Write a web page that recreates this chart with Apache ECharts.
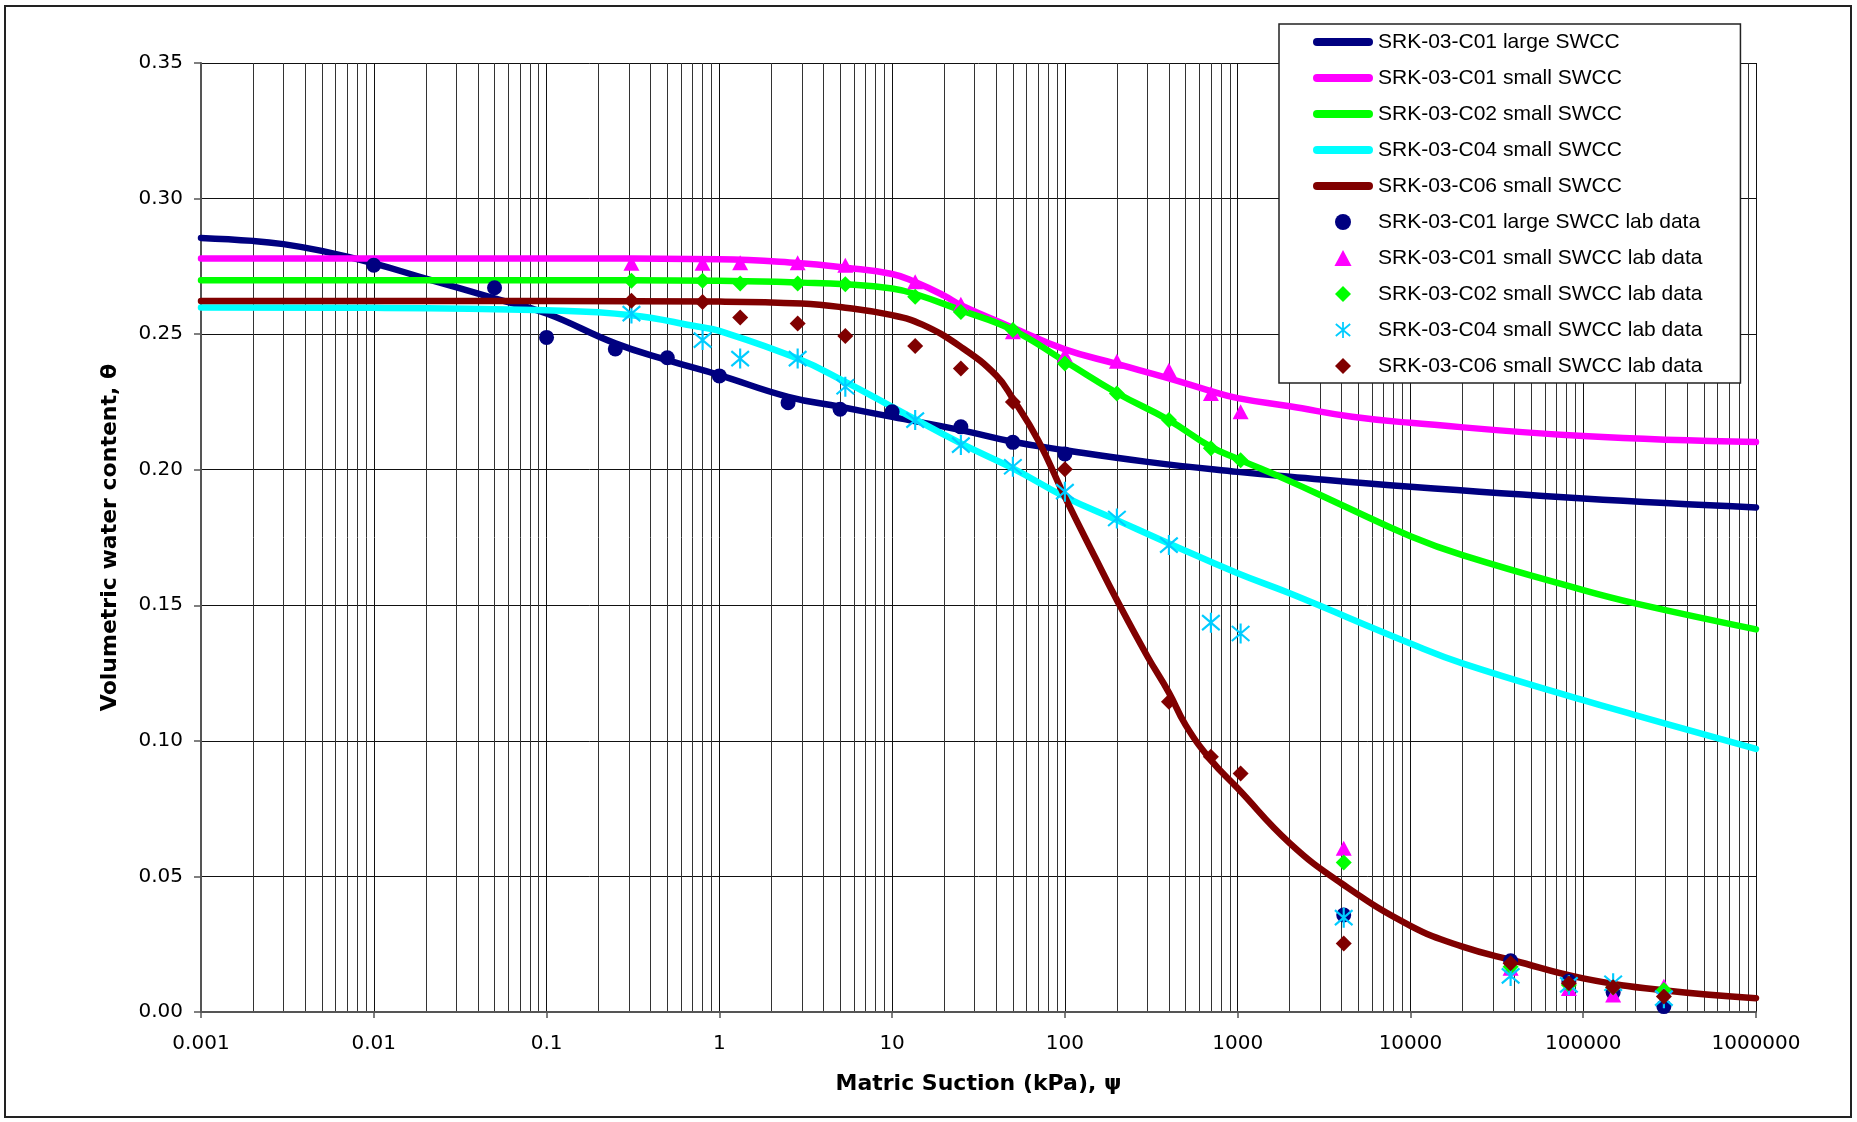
<!DOCTYPE html>
<html><head><meta charset="utf-8">
<script src="https://cdn.jsdelivr.net/npm/echarts@6/dist/echarts.min.js"></script>
<style>html,body{margin:0;padding:0;background:#fff}#c{width:1857px;height:1122px}</style>
</head><body><div id="c"></div>
<script>
// ---- tick labels ----
const xTickLabels = ['0.001','0.01','0.1','1','10','100','1000','10000','100000','1000000'];
const yTickLabels = ['0.00','0.05','0.10','0.15','0.20','0.25','0.30','0.35'];

// ---- series names ----
const seriesNames = [
  'SRK-03-C01 large SWCC','SRK-03-C01 small SWCC','SRK-03-C02 small SWCC','SRK-03-C04 small SWCC','SRK-03-C06 small SWCC',
  'SRK-03-C01 large SWCC lab data','SRK-03-C01 small SWCC lab data','SRK-03-C02 small SWCC lab data','SRK-03-C04 small SWCC lab data','SRK-03-C06 small SWCC lab data'
];

// ---- fitted curves ----
const c01LargeCurveX = [0.001,0.002,0.003,0.005,0.01,0.02,0.05,0.1,0.25,0.5,1,2.5,5,10,25,50,100,300,1000,2000,10000,100000,1000000];
const c01LargeCurveY = [0.2855,0.2844,0.2832,0.2807,0.2761,0.2705,0.2632,0.2576,0.2466,0.2404,0.2349,0.2269,0.2232,0.2195,0.2146,0.2103,0.2072,0.2029,0.1992,0.1974,0.1937,0.1894,0.1861];

const c01SmallCurveX = [0.001,0.1,1,2.84,5.36,10,13.6,20,25,50,100,200,400,700,1000,2000,4600,10000,100000,1000000];
const c01SmallCurveY = [0.2779,0.2779,0.2776,0.2762,0.2745,0.2722,0.2692,0.2642,0.2607,0.2524,0.2444,0.2390,0.2337,0.2290,0.2264,0.2234,0.2195,0.2173,0.2124,0.2102];

const c02SmallCurveX = [0.001,0.1,1,3,5.36,10,13.6,25,50,100,200,400,700,1000,2000,4000,10000,20000,100000,200000,1000000];
const c02SmallCurveY = [0.2699,0.2699,0.2697,0.2690,0.2684,0.2668,0.2648,0.2588,0.2515,0.2400,0.2283,0.2183,0.2084,0.2040,0.1958,0.1870,0.1755,0.1685,0.1556,0.1507,0.1411];

const c04SmallCurveX = [0.001,0.01,0.1,0.31,0.76,1,2.84,5.36,10,25,50,100,200,400,1000,2000,10000,20000,100000,200000,1000000];
const c04SmallCurveY = [0.2598,0.2597,0.2588,0.2570,0.2527,0.2512,0.2410,0.2324,0.2232,0.2097,0.2005,0.1900,0.1814,0.1728,0.1618,0.1544,0.1359,0.1286,0.1150,0.1095,0.0970];

const c06SmallCurveX = [0.001,0.1,1,3,5,10,15,25,40,50,70,100,150,200,300,400,500,700,1000,2000,4000,10000,20000,40000,100000,300000,1000000];
const c06SmallCurveY = [0.2622,0.2622,0.2620,0.2613,0.2600,0.2570,0.2535,0.2453,0.2348,0.2262,0.2109,0.1900,0.1675,0.1519,0.1312,0.1178,0.1058,0.0929,0.0825,0.0623,0.0474,0.0318,0.0241,0.0189,0.0124,0.0079,0.0051];

// ---- lab data ----
const c01LargeLabX = [0.01,0.05,0.1,0.25,0.5,1,2.5,5,10,25,50,100,4110,38000,82600,149000,293000];
const c01LargeLabY = [0.2754,0.2671,0.2488,0.2445,0.2413,0.2346,0.2247,0.2223,0.2214,0.2158,0.2101,0.2058,0.0358,0.0189,0.0114,0.0072,0.0020];

const smallLabX = [0.31,0.8,1.32,2.84,5.36,13.6,25,50,100,200,400,700,1040,4110,38000,82600,149000,293000];
const c01SmallLabY = [0.2761,0.2761,0.2763,0.2763,0.2754,0.2693,0.2610,0.2509,0.2423,0.2400,0.2367,0.2281,0.2214,0.0604,0.0161,0.0087,0.0063,0.0095];
const c02SmallLabY = [0.2697,0.2697,0.2687,0.2687,0.2684,0.2638,0.2582,0.2515,0.2392,0.2281,0.2183,0.2079,0.2035,0.0551,0.0167,0.0100,0.0090,0.0081];
const c04SmallLabY = [0.2576,0.2478,0.2410,0.2410,0.2306,0.2183,0.2091,0.2011,0.1919,0.1820,0.1722,0.1436,0.1396,0.0348,0.0133,0.0100,0.0106,0.0051];

const c06SmallLabX = [0.31,0.8,1.32,2.84,5.36,13.6,25,50,100,400,700,1040,4110,38000,82600,149000,293000];
const c06SmallLabY = [0.2623,0.2619,0.2561,0.2539,0.2493,0.2456,0.2373,0.2250,0.2002,0.1144,0.0941,0.0880,0.0253,0.0180,0.0106,0.0091,0.0057];

// ---- styling ----
const colors = ['#000080','#FF00FF','#00FF00','#00FFFF','#800000','#000080','#FF00FF','#00FF00','#00CCFF','#800000'];
const asterisk = 'path://M-1.1,-10L1.1,-10L1.1,10L-1.1,10Z' +
  'M-8.296,-8.345L9.704,6.655L8.296,8.345L-9.704,-6.655Z' +
  'M9.704,-6.655L-8.296,8.345L-9.704,6.655L8.296,-8.345Z';
const lineIcon = 'path://M4,0L56,0A4,4,0,0,1,56,8L4,8A4,4,0,0,1,4,0Z';
const triIcon = 'path://M8,0L16,15L0,15Z';
const diaIcon = 'path://M8,0L16,8L8,16L0,8Z';

const pairs = (xs, ys) => xs.map((x, i) => [x, ys[i]]);

const curves = [
  [c01LargeCurveX, c01LargeCurveY],
  [c01SmallCurveX, c01SmallCurveY],
  [c02SmallCurveX, c02SmallCurveY],
  [c04SmallCurveX, c04SmallCurveY],
  [c06SmallCurveX, c06SmallCurveY]
];
const labs = [
  [c01LargeLabX, c01LargeLabY, 'circle', 15, 'circle'],
  [smallLabX, c01SmallLabY, 'triangle', [16, 15], triIcon],
  [smallLabX, c02SmallLabY, 'diamond', 16, diaIcon],
  [smallLabX, c04SmallLabY, asterisk, [19, 20], asterisk],
  [c06SmallLabX, c06SmallLabY, 'diamond', 16, diaIcon]
];

const series = [];
curves.forEach((c, i) => {
  series.push({
    name: seriesNames[i], type: 'line', data: pairs(c[0], c[1]),
    showSymbol: false, symbol: 'none', smooth: 0.45,
    lineStyle: { color: colors[i], width: 6.5, cap: 'round', join: 'round' },
    itemStyle: { color: colors[i] }, z: 2
  });
});
labs.forEach((l, i) => {
  series.push({
    name: seriesNames[i + 5], type: 'scatter', data: pairs(l[0], l[1]),
    symbol: l[2], symbolSize: l[3],
    itemStyle: { color: colors[i + 5], opacity: 1 }, z: 3
  });
});

const legendData = seriesNames.map((n, i) => i < 5
  ? { name: n, icon: lineIcon }
  : { name: n, icon: labs[i - 5][4] });

const chart = echarts.init(document.getElementById('c'), null, { renderer: 'canvas' });
chart.setOption({
  animation: false,
  backgroundColor: '#ffffff',
  color: colors,
  grid: { left: 201, right: 101, top: 63, bottom: 110, containLabel: false },
  xAxis: {
    type: 'log', logBase: 10, min: 0.001, max: 1000000,
    name: 'Matric Suction (kPa), ψ', nameLocation: 'middle', nameGap: 61,
    nameTextStyle: { fontFamily: 'DejaVu Sans', fontWeight: 'bold', fontSize: 22, color: '#000' },
    axisLine: { show: true, onZero: false, lineStyle: { color: '#555', width: 2 } },
    axisTick: { show: true, length: 6, inside: false, lineStyle: { color: '#555', width: 1.5 } },
    minorTick: { show: false, splitNumber: 9 },
    axisLabel: {
      margin: 22, fontFamily: 'DejaVu Sans', fontSize: 20, color: '#000',
      formatter: v => xTickLabels[Math.round(Math.log10(v)) + 3]
    },
    splitLine: { show: true, lineStyle: { color: '#111', width: 1 } },
    minorSplitLine: { show: true, lineStyle: { color: '#333', width: 1 } }
  },
  yAxis: {
    type: 'value', min: 0, max: 0.35, interval: 0.05,
    name: 'Volumetric water content, θ', nameLocation: 'middle', nameGap: 80,
    nameTextStyle: { fontFamily: 'DejaVu Sans', fontWeight: 'bold', fontSize: 22, color: '#000' },
    axisLine: { show: true, lineStyle: { color: '#555', width: 2 } },
    axisTick: { show: true, length: 7, lineStyle: { color: '#555', width: 1.5 } },
    axisLabel: {
      margin: 18, fontFamily: 'DejaVu Sans', fontSize: 20, color: '#000',
      formatter: v => yTickLabels[Math.round(v / 0.05)]
    },
    splitLine: { show: true, lineStyle: { color: '#111', width: 1 } }
  },
  legend: {
    orient: 'vertical', left: 1279, top: 24,
    padding: [7.5, 38, 6.5, 34],
    itemWidth: 60, itemHeight: 16, itemGap: 15,
    backgroundColor: '#fff', borderColor: '#222', borderWidth: 1.5,
    symbolKeepAspect: true, selectedMode: false,
    textStyle: { fontFamily: 'Liberation Sans', fontSize: 21, color: '#000' },
    data: legendData
  },
  graphic: [{
    type: 'rect', shape: { x: 5, y: 6, width: 1846, height: 1111 },
    style: { fill: 'none', stroke: '#222', lineWidth: 2 }, silent: true, z: -10
  }],
  series: series
});
</script>
</body></html>
